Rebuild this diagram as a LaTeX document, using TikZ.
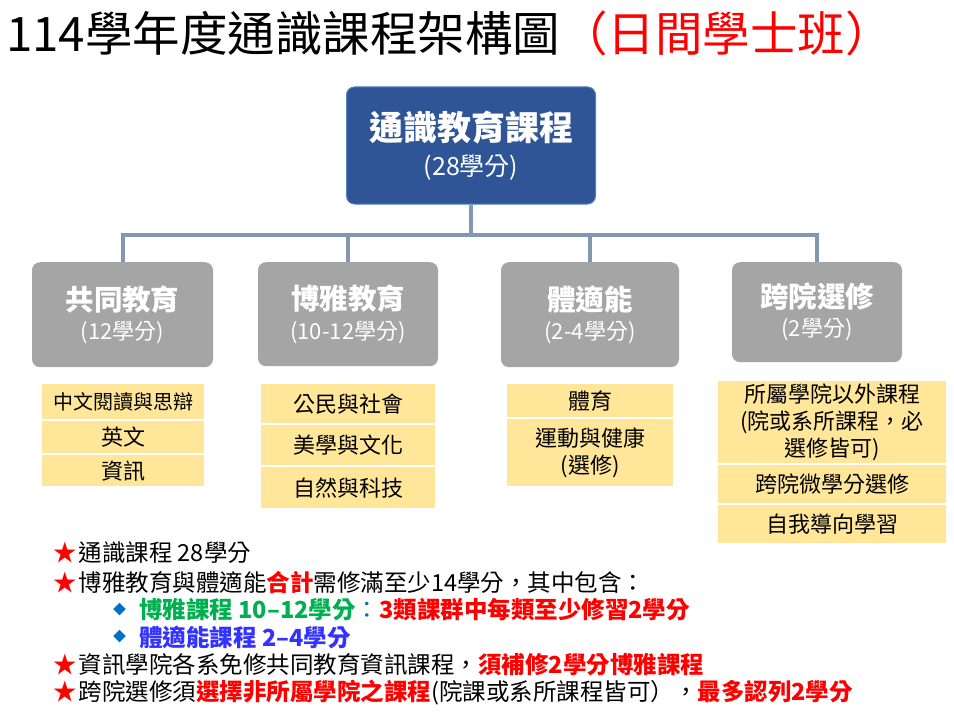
\documentclass[tikz,border=0pt]{standalone}
\usepackage{fontspec}
\setmainfont{Noto Sans CJK TC}
\usetikzlibrary{positioning}

\definecolor{topblue}{HTML}{2F5597}
\definecolor{topedge}{HTML}{4F81BD}
\definecolor{catgrey}{HTML}{A5A5A5}
\definecolor{linkgrey}{HTML}{8497B0}
\definecolor{itemyellow}{HTML}{FFE699}
\definecolor{notered}{HTML}{FF0000}
\definecolor{notegreen}{HTML}{00B050}
\definecolor{noteblue}{HTML}{3333FF}
\definecolor{bulletblue}{HTML}{0070C0}

\tikzset{
  topbox/.style={fill=topblue, draw=topedge, line width=1pt, rounded corners=8pt, text=white, align=center, minimum width=249pt, minimum height=117pt, inner sep=0pt},
  catbox/.style={fill=catgrey, rounded corners=8pt, text=white, align=center, anchor=north, inner sep=0pt},
  itembox/.style={fill=itemyellow, align=center, anchor=north, inner sep=0pt, font=\fontsize{22}{27}\selectfont},
  link/.style={draw=linkgrey, line width=4pt},
  note/.style={anchor=west, inner sep=0pt, font=\fontsize{23.5}{28}\selectfont},
  bullet/.style={anchor=west, inner sep=0pt, text=bulletblue, font=\fontsize{13}{13}\selectfont},
}
\newcommand{\redstar}{\textcolor{notered}{★}\hspace{2pt}}

\begin{document}
\begin{tikzpicture}[x=1pt, y=-1pt]
    \useasboundingbox (0,0) rectangle (954,717);

    % title
    \node[anchor=base west, inner sep=0pt, font=\fontsize{47.5}{52}\selectfont] (title) at (6,52) {114學年度通識課程架構圖\textcolor{notered}{（日間學士班）}};

    % top box
    \node[topbox] (top) at (471,145.5) {{\fontsize{34}{40}\selectfont\bfseries 通識教育課程}\\[10pt]{\fontsize{25}{30}\selectfont (28學分)}};

    % categories and links
    \foreach \n/\x/\w/\h/\t/\c in {cat1/122.5/181/105/共同教育/12學分, cat2/348/180/104/博雅教育/10-12學分, cat3/590/178/105/體適能/2-4學分, cat4/817/170/100/跨院選修/2學分} {
        \node[catbox, minimum width=\w pt, minimum height=\h pt] (\n) at (\x,262) {{\fontsize{28.5}{34}\selectfont\bfseries \t}\\[7pt]{\fontsize{22}{26}\selectfont (\c)}};
        \draw[link] (top.south) -- ++(0,30) -| (\n.north);
    }

    % course items
    \node[itembox, minimum width=162pt, minimum height=35pt, font=\fontsize{20}{24}\selectfont] (gen1) at (123,384) {中文閱讀與思辯};
    \node[itembox, minimum width=162pt, minimum height=32pt] (gen2) at (123,421) {英文};
    \node[itembox, minimum width=162pt, minimum height=31pt] (gen3) at (123,455) {資訊};

    \node[itembox, minimum width=174pt, minimum height=39pt] (lib1) at (348,384) {公民與社會};
    \node[itembox, minimum width=174pt, minimum height=40pt] (lib2) at (348,425) {美學與文化};
    \node[itembox, minimum width=174pt, minimum height=41pt] (lib3) at (348,467) {自然與科技};

    \node[itembox, minimum width=166pt, minimum height=33pt] (pe1) at (590,384) {體育};
    \node[itembox, minimum width=166pt, minimum height=67pt] (pe2) at (590,419) {運動與健康\\(選修)};

    \node[itembox, minimum width=228pt, minimum height=82pt] (cross1) at (832,381) {所屬學院以外課程\\(院或系所課程，必\\選修皆可)};
    \node[itembox, minimum width=228pt, minimum height=38pt] (cross2) at (832,465) {跨院微學分選修};
    \node[itembox, minimum width=228pt, minimum height=38pt] (cross3) at (832,505) {自我導向學習};

    % notes
    \node[note] (n1) at (53,553) {\redstar 通識課程 28學分};
    \node[note] (n2) at (53,582) {\redstar 博雅教育與體適能\textcolor{notered}{\bfseries 合計}需修滿至少14學分，其中包含：};
    \node[bullet] (b3) at (113,610) {◆};
    \node[note] (n3) at (139,610) {\textcolor{notegreen}{\bfseries 博雅課程 10–12學分}\textcolor{bulletblue}{：}\textcolor{notered}{\bfseries 3類課群中每類至少修習2學分}};
    \node[bullet] (b4) at (113,637) {◆};
    \node[note] (n4) at (139,637) {\textcolor{noteblue}{\bfseries 體適能課程 2–4學分}};
    \node[note] (n5) at (53,665) {\redstar 資訊學院各系免修共同教育資訊課程，\textcolor{notered}{\bfseries 須補修2學分博雅課程}};
    \node[note] (n6) at (53,693) {\redstar 跨院選修須\textcolor{notered}{\bfseries 選擇非所屬學院之課程}(院課或系所課程皆可），\textcolor{notered}{\bfseries 最多認列2學分}};
\end{tikzpicture}
\end{document}
